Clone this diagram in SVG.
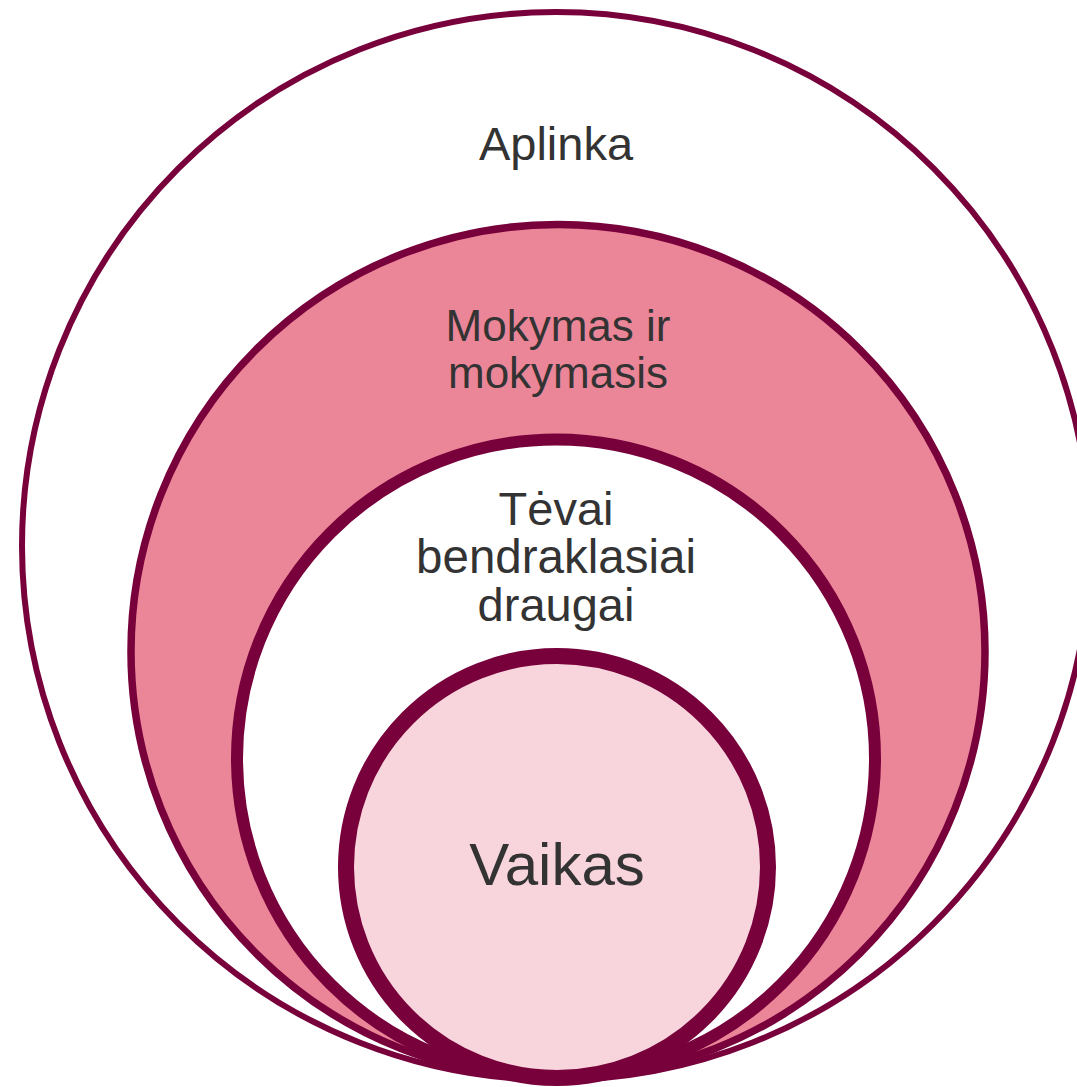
<svg xmlns="http://www.w3.org/2000/svg" width="1077" height="1087" viewBox="0 0 1077 1087">
<style>
.ring{stroke:#78003b;}
.lbl{font-family:"Liberation Sans",Arial,sans-serif;fill:#333333;text-anchor:middle;}
</style>
<rect width="1077" height="1087" fill="#ffffff"/>
<g id="aplinka">
<circle class="ring" cx="556" cy="546" r="534" fill="#ffffff" stroke-width="6"/>
<text class="lbl" x="556" y="160" font-size="47">Aplinka</text>
</g>
<g id="mokymas">
<circle class="ring" cx="558" cy="651.5" r="427" fill="#eb8598" stroke-width="7.5"/>
<text class="lbl" x="558" y="341" font-size="44">Mokymas ir</text>
<text class="lbl" x="558" y="388" font-size="44">mokymasis</text>
</g>
<g id="tevai">
<circle class="ring" cx="556" cy="758.5" r="319" fill="#ffffff" stroke-width="12"/>
<text class="lbl" x="556" y="525" font-size="47">Tėvai</text>
<text class="lbl" x="556" y="573" font-size="47.5">bendraklasiai</text>
<text class="lbl" x="556" y="621" font-size="47">draugai</text>
</g>
<g id="vaikas">
<circle class="ring" cx="557" cy="867" r="211" fill="#f8d4dc" stroke-width="16"/>
<text class="lbl" x="557" y="885" font-size="60">Vaikas</text>
</g>
<g id="connectors"></g>
</svg>
